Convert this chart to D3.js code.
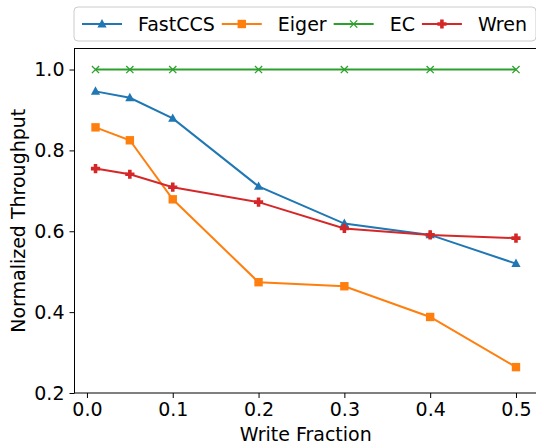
<!DOCTYPE html>
<html>
<head>
<meta charset="utf-8">
<script src="https://cdn.jsdelivr.net/npm/d3@7"></script>
<style>
  body { margin: 0; background: #fff; }
  svg { font-family: "DejaVu Sans", sans-serif; }
</style>
</head>
<body>
<div id="graph"></div>
<script>
(function(){
  "use strict";

  // data
  var writeFraction = [0.01, 0.05, 0.1, 0.2, 0.3, 0.4, 0.5];
  var fastccs = [0.946, 0.930, 0.879, 0.711, 0.619, 0.591, 0.520];
  var eiger   = [0.857, 0.825, 0.679, 0.474, 0.464, 0.388, 0.264];
  var ec      = [1.0, 1.0, 1.0, 1.0, 1.0, 1.0, 1.0];
  var wren    = [0.755, 0.741, 0.709, 0.672, 0.607, 0.591, 0.583];
  var xTicks = [0.0, 0.1, 0.2, 0.3, 0.4, 0.5];
  var yTicks = [0.2, 0.4, 0.6, 0.8, 1.0];

  var series = [
    { name: "FastCCS", values: fastccs, color: "#1f77b4", marker: "triangle" },
    { name: "Eiger",   values: eiger,   color: "#ff7f0e", marker: "square" },
    { name: "EC",      values: ec,      color: "#2ca02c", marker: "x" },
    { name: "Wren",    values: wren,    color: "#d62728", marker: "plus" }
  ];

  var width = 536, height = 448;
  var margin = { top: 48.5, right: -1, bottom: 55, left: 74.5 };
  var fs = 19;

  var svg = d3.select("#graph").append("svg")
    .attr("width", width)
    .attr("height", height);

  var x = d3.scaleLinear()
    .domain([-0.0145, 0.5245])
    .range([margin.left, width - margin.right]);
  var y = d3.scaleLinear()
    .domain([0.2, 1.052])
    .range([height - margin.bottom, margin.top]);

  // axes
  var xAxis = svg.append("g")
    .attr("transform", "translate(0," + (height - margin.bottom) + ")")
    .call(d3.axisBottom(x).tickValues(xTicks).tickFormat(d3.format(".1f")).tickSize(5).tickPadding(5));
  var yAxis = svg.append("g")
    .attr("transform", "translate(" + margin.left + ",0)")
    .call(d3.axisLeft(y).tickValues(yTicks).tickFormat(d3.format(".1f")).tickSize(5).tickPadding(5));

  [xAxis, yAxis].forEach(function(a){
    a.selectAll("text").attr("font-size", fs).attr("fill", "#000").attr("font-family", "DejaVu Sans");
    a.selectAll("line").attr("stroke", "#000").attr("stroke-width", 1);
    a.select(".domain").remove();
  });

  // frame
  svg.append("rect")
    .attr("x", margin.left)
    .attr("y", margin.top)
    .attr("width", x.range()[1] - margin.left)
    .attr("height", (height - margin.bottom) - margin.top)
    .attr("fill", "none")
    .attr("stroke", "#000")
    .attr("stroke-width", 1);

  // labels
  svg.append("text")
    .attr("x", (margin.left + x.range()[1]) / 2)
    .attr("y", 441)
    .attr("text-anchor", "middle")
    .attr("font-size", fs)
    .text("Write Fraction");
  svg.append("text")
    .attr("transform", "translate(25," + ((margin.top + height - margin.bottom) / 2) + ") rotate(-90)")
    .attr("text-anchor", "middle")
    .attr("font-size", fs)
    .text("Normalized Throughput");

  var line = d3.line()
    .x(function(d){ return x(d[0]); })
    .y(function(d){ return y(d[1]); });

  function drawMarker(g, kind, color) {
    if (kind === "triangle") {
      g.append("path").attr("d", "M0,-5 L4.6,3.4 L-4.6,3.4 Z").attr("fill", color);
    } else if (kind === "square") {
      g.append("rect").attr("x", -4.2).attr("y", -4.2).attr("width", 8.4).attr("height", 8.4).attr("fill", color);
    } else if (kind === "x") {
      g.append("path").attr("d", "M-3.6,-3.6 L3.6,3.6 M-3.6,3.6 L3.6,-3.6")
        .attr("stroke", color).attr("stroke-width", 1.3).attr("fill", "none");
    } else if (kind === "plus") {
      g.append("path").attr("d", "M-1.8,-4.6 H1.8 V-1.8 H4.6 V1.8 H1.8 V4.6 H-1.8 V1.8 H-4.6 V-1.8 H-1.8 Z")
        .attr("fill", color);
    }
  }

  var plot = svg.append("g");
  series.forEach(function(s){
    var pts = writeFraction.map(function(v, i){ return [v, s.values[i]]; });
    plot.append("path")
      .attr("d", line(pts))
      .attr("fill", "none")
      .attr("stroke", s.color)
      .attr("stroke-width", 2);
    pts.forEach(function(p){
      var g = plot.append("g").attr("transform", "translate(" + x(p[0]) + "," + y(p[1]) + ")");
      drawMarker(g, s.marker, s.color);
    });
  });

  // legend
  var legend = svg.append("g");
  var frame = legend.append("rect")
    .attr("x", 74).attr("y", 7).attr("height", 34).attr("rx", 4)
    .attr("fill", "#fff").attr("fill-opacity", 0.8)
    .attr("stroke", "#cccccc").attr("stroke-width", 1);
  var cx = 82, ly = 24;
  series.forEach(function(s){
    legend.append("line")
      .attr("x1", cx).attr("x2", cx + 40).attr("y1", ly).attr("y2", ly)
      .attr("stroke", s.color).attr("stroke-width", 2);
    drawMarker(legend.append("g").attr("transform", "translate(" + (cx + 20) + "," + ly + ")"), s.marker, s.color);
    var t = legend.append("text")
      .attr("x", cx + 56).attr("y", ly + 7)
      .attr("font-size", fs)
      .text(s.name);
    cx = cx + 56 + t.node().getComputedTextLength() + 7;
  });
  frame.attr("width", cx - 74 + 2);
})();
</script>
</body>
</html>
